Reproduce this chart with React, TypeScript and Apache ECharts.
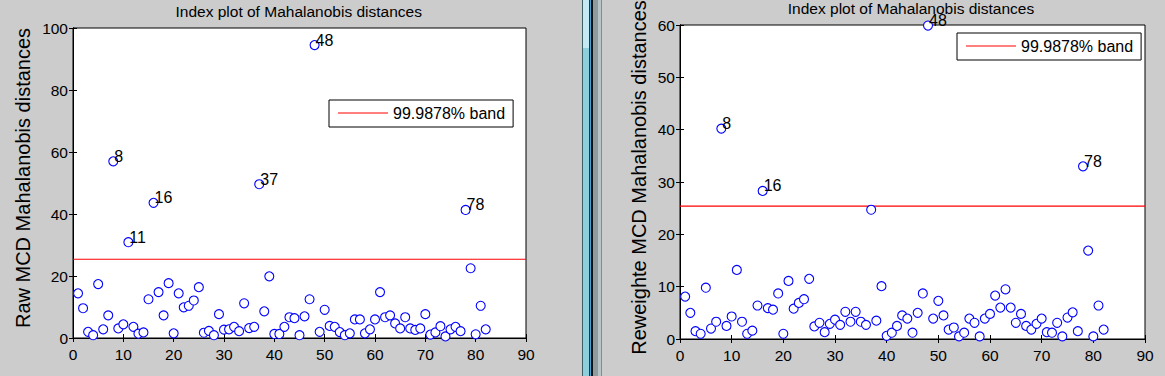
import React, { useEffect, useRef } from "react";
import * as echarts from "echarts";

// ---- data ----
const rawMCD: number[] = [
  14.4, 9.6, 2.0, 0.9, 17.4, 2.8, 7.3, 57.0, 3.1, 4.4,
  30.9, 3.6, 1.4, 1.8, 12.5, 43.6, 14.8, 7.3, 17.7, 1.5,
  14.4, 9.9, 10.4, 12.1, 16.4, 1.7, 2.3, 0.9, 7.7, 2.7,
  2.8, 3.6, 2.2, 11.2, 3.2, 3.6, 49.6, 8.6, 19.9, 1.3,
  1.3, 3.6, 6.7, 6.4, 0.9, 7.0, 12.5, 94.5, 2.0, 9.1,
  3.9, 3.6, 1.9, 0.9, 1.5, 6.0, 6.0, 1.5, 2.8, 6.0,
  14.8, 6.7, 7.3, 4.7, 3.1, 6.7, 3.1, 2.6, 3.1, 7.7,
  1.1, 1.8, 3.8, 0.5, 2.8, 3.6, 2.2, 41.3, 22.5, 1.2,
  10.4, 2.8,
];
const reweightedMCD: number[] = [
  8.1, 5.0, 1.5, 1.0, 9.8, 2.0, 3.3, 40.2, 2.5, 4.3,
  13.2, 3.3, 1.0, 1.6, 6.4, 28.3, 5.9, 5.6, 8.7, 1.0,
  11.1, 5.8, 6.9, 7.6, 11.5, 2.4, 3.1, 1.3, 2.9, 3.7,
  2.7, 5.2, 3.3, 5.2, 3.3, 2.7, 24.7, 3.5, 10.1, 0.6,
  1.2, 2.5, 4.5, 3.9, 1.2, 5.0, 8.7, 59.9, 3.9, 7.3,
  4.5, 1.8, 2.2, 0.5, 1.2, 3.9, 3.1, 0.5, 3.9, 4.8,
  8.3, 6.0, 9.5, 6.0, 3.1, 4.8, 2.5, 1.8, 2.9, 3.9,
  1.3, 1.2, 3.1, 0.5, 4.1, 5.1, 1.5, 33.0, 16.9, 0.5,
  6.4, 1.8,
];
const indices: number[] = rawMCD.map((_, i) => i + 1);
const threshold = 25.4;
const bandName = "99.9878% band";
const titleText = "Index plot of Mahalanobis distances";
const leftYName = "Raw MCD Mahalanobis distances";
const rightYName = "Reweighte MCD Mahalanobis distances";
const xRange = [0, 90];
const leftYRange = [0, 100];
const rightYRange = [0, 60];

const FONT = "'Liberation Sans', Arial, sans-serif";

function axisBase(show: boolean) {
  return {
    axisLine: { show: true, lineStyle: { color: "#000", width: 1 } },
    axisTick: { show: true, inside: true, length: 4, lineStyle: { color: "#000" } },
    axisLabel: { show, color: "#000", fontSize: 15, fontFamily: FONT, margin: 7 },
    splitLine: { show: false },
  };
}

function xAxes(grid: number) {
  return [
    { type: "value", gridIndex: grid, min: xRange[0], max: xRange[1], interval: 10, position: "bottom", ...axisBase(true), axisLabel: { show: true, color: "#000", fontSize: 15.5, fontFamily: FONT, margin: 8 } },
    { type: "value", gridIndex: grid, min: xRange[0], max: xRange[1], interval: 10, position: "top", ...axisBase(false) },
  ];
}
function yAxes(grid: number, range: number[], interval: number) {
  return [
    { type: "value", gridIndex: grid, min: range[0], max: range[1], interval, position: "left", ...axisBase(true), axisLabel: { show: true, color: "#000", fontSize: 15.5, fontFamily: FONT, margin: 5 } },
    { type: "value", gridIndex: grid, min: range[0], max: range[1], interval, position: "right", ...axisBase(false) },
  ];
}

function scatterSeries(values: number[], xi: number, yi: number) {
  return {
    type: "scatter",
    xAxisIndex: xi,
    yAxisIndex: yi,
    symbol: "circle",
    symbolSize: 9,
    itemStyle: { color: "#ffffff", borderColor: "#0000ff", borderWidth: 1.1, opacity: 1 },
    label: {
      show: false,
      position: "inside",
      align: "left",
      verticalAlign: "bottom",
      offset: [1, 3],
      color: "#000",
      fontSize: 16,
      fontFamily: FONT,
      formatter: (p: any) => String(p.value[0]),
    },
    emphasis: { disabled: true },
    z: 3,
    data: indices.map((x, i) => ({
      value: [x, values[i]],
      label: { show: values[i] > threshold },
    })),
  };
}

function bandSeries(xi: number, yi: number) {
  return {
    type: "line",
    name: bandName,
    xAxisIndex: xi,
    yAxisIndex: yi,
    symbol: "none",
    color: "#ff0000",
    lineStyle: { color: "#ff0000", width: 1.2 },
    z: 2,
    data: [[xRange[0], threshold], [xRange[1], threshold]],
  };
}

function legendCfg(left: number, top: number) {
  return {
    left,
    top,
    orient: "vertical",
    selectedMode: false,
    data: [{ name: bandName, icon: "rect" }],
    itemWidth: 50,
    itemHeight: 1,
    itemGap: 5,
    backgroundColor: "#fff",
    borderColor: "#000",
    borderWidth: 1,
    borderRadius: 0,
    padding: [5, 8, 6, 9],
    textStyle: { color: "#000", fontSize: 16, fontFamily: FONT },
  };
}

const dividerRects = [
  { x: 582, w: 1, color: "#3d5f66" },
  { x: 583, w: 6, color: "#8dcfdb" },
  { x: 589, w: 1, color: "#1e3a40" },
  { x: 590, w: 1, color: "#4d9fd0" },
  { x: 591, w: 2, color: "#111111" },
  { x: 593, w: 5, color: "#8f9c9e" },
  { x: 598, w: 3, color: "#b9c4c6" },
  { x: 601, w: 1, color: "#8a8a8a" },
];

export default function App() {
  const ref = useRef<HTMLDivElement>(null);
  useEffect(() => {
    if (!ref.current) return;
    const chart = echarts.init(ref.current, undefined, { renderer: "svg" });
    const graphic: any[] = dividerRects.map((r) => ({
      type: "rect",
      shape: { x: r.x, y: 0, width: r.w, height: 376 },
      style: { fill: r.color },
      silent: true,
    }));
    graphic.push({
      type: "rect",
      shape: { x: 583, y: 0, width: 6, height: 48 },
      style: { fill: "#c4e9f1" },
      silent: true,
    });
    graphic.push(
      { type: "text", x: 298.7, y: 11.4, style: { text: titleText, font: `15.5px ${FONT}`, fill: "#000", textAlign: "center", textVerticalAlign: "middle" } },
      { type: "text", x: 911, y: 8, style: { text: titleText, font: `15.5px ${FONT}`, fill: "#000", textAlign: "center", textVerticalAlign: "middle" } },
      { type: "text", x: 23, y: 178, rotation: Math.PI / 2, style: { text: leftYName, font: `20px ${FONT}`, fill: "#000", textAlign: "center", textVerticalAlign: "middle" } },
      { type: "text", x: 638.5, y: 177.5, rotation: Math.PI / 2, style: { text: rightYName, font: `20px ${FONT}`, fill: "#000", textAlign: "center", textVerticalAlign: "middle" } }
    );
    const option: any = {
      animation: false,
      backgroundColor: "#cccccc",
      textStyle: { fontFamily: FONT },
      grid: [
        { left: 73, top: 28, width: 453, height: 310, show: true, backgroundColor: "#fff", borderColor: "#000", borderWidth: 1 },
        { left: 680, top: 25, width: 465, height: 314, show: true, backgroundColor: "#fff", borderColor: "#000", borderWidth: 1 },
      ],
      xAxis: [...xAxes(0), ...xAxes(1)],
      yAxis: [...yAxes(0, leftYRange, 20), ...yAxes(1, rightYRange, 10)],
      legend: [legendCfg(329, 100), legendCfg(957, 33)],
      graphic,
      series: [
        bandSeries(0, 0),
        scatterSeries(rawMCD, 0, 0),
        bandSeries(2, 2),
        scatterSeries(reweightedMCD, 2, 2),
      ],
    };
    chart.setOption(option);
    return () => chart.dispose();
  }, []);
  return (
    <div
      ref={ref}
      style={{ position: "absolute", left: 0, top: 0, width: 1165, height: 376 }}
    />
  );
}
